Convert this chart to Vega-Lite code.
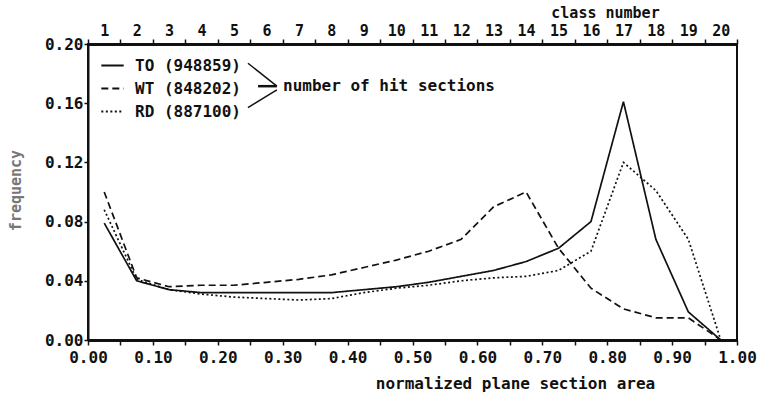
{
  "$schema": "https://vega.github.io/schema/vega-lite/v6.json",
  "width": 649,
  "height": 296,
  "autosize": "none",
  "padding": {"left": 88, "top": 44, "right": 21, "bottom": 57},
  "background": "white",
  "config": {
    "view": {"stroke": "#111", "strokeWidth": 2},
    "font": "DejaVu Sans Mono",
    "axis": {
      "grid": false,
      "domainColor": "#111",
      "tickColor": "#111",
      "labelColor": "#111",
      "titleColor": "#111",
      "labelFont": "DejaVu Sans Mono",
      "titleFont": "DejaVu Sans Mono",
      "labelFontWeight": "bold",
      "titleFontWeight": "bold",
      "labelFontSize": 16,
      "titleFontSize": 16,
      "tickWidth": 1.5
    },
    "legend": {
      "labelFont": "DejaVu Sans Mono",
      "labelFontWeight": "bold",
      "labelFontSize": 16,
      "labelColor": "#111"
    }
  },
  "data": {
    "values": [
      {"x": 0.025, "series": "TO (948859)", "f": 0.079},
      {"x": 0.075, "series": "TO (948859)", "f": 0.040},
      {"x": 0.125, "series": "TO (948859)", "f": 0.034},
      {"x": 0.175, "series": "TO (948859)", "f": 0.032},
      {"x": 0.225, "series": "TO (948859)", "f": 0.032},
      {"x": 0.275, "series": "TO (948859)", "f": 0.032},
      {"x": 0.325, "series": "TO (948859)", "f": 0.032},
      {"x": 0.375, "series": "TO (948859)", "f": 0.032},
      {"x": 0.425, "series": "TO (948859)", "f": 0.034},
      {"x": 0.475, "series": "TO (948859)", "f": 0.036},
      {"x": 0.525, "series": "TO (948859)", "f": 0.039},
      {"x": 0.575, "series": "TO (948859)", "f": 0.043},
      {"x": 0.625, "series": "TO (948859)", "f": 0.047},
      {"x": 0.675, "series": "TO (948859)", "f": 0.053},
      {"x": 0.725, "series": "TO (948859)", "f": 0.062},
      {"x": 0.775, "series": "TO (948859)", "f": 0.080},
      {"x": 0.825, "series": "TO (948859)", "f": 0.161},
      {"x": 0.875, "series": "TO (948859)", "f": 0.068},
      {"x": 0.925, "series": "TO (948859)", "f": 0.019},
      {"x": 0.975, "series": "TO (948859)", "f": 0.0},
      {"x": 0.025, "series": "WT (848202)", "f": 0.100},
      {"x": 0.075, "series": "WT (848202)", "f": 0.042},
      {"x": 0.125, "series": "WT (848202)", "f": 0.036},
      {"x": 0.175, "series": "WT (848202)", "f": 0.037},
      {"x": 0.225, "series": "WT (848202)", "f": 0.037},
      {"x": 0.275, "series": "WT (848202)", "f": 0.039},
      {"x": 0.325, "series": "WT (848202)", "f": 0.041},
      {"x": 0.375, "series": "WT (848202)", "f": 0.044},
      {"x": 0.425, "series": "WT (848202)", "f": 0.049},
      {"x": 0.475, "series": "WT (848202)", "f": 0.054},
      {"x": 0.525, "series": "WT (848202)", "f": 0.060},
      {"x": 0.575, "series": "WT (848202)", "f": 0.068},
      {"x": 0.625, "series": "WT (848202)", "f": 0.090},
      {"x": 0.675, "series": "WT (848202)", "f": 0.100},
      {"x": 0.725, "series": "WT (848202)", "f": 0.062},
      {"x": 0.775, "series": "WT (848202)", "f": 0.035},
      {"x": 0.825, "series": "WT (848202)", "f": 0.021},
      {"x": 0.875, "series": "WT (848202)", "f": 0.015},
      {"x": 0.925, "series": "WT (848202)", "f": 0.015},
      {"x": 0.975, "series": "WT (848202)", "f": 0.0},
      {"x": 0.025, "series": "RD (887100)", "f": 0.088},
      {"x": 0.075, "series": "RD (887100)", "f": 0.041},
      {"x": 0.125, "series": "RD (887100)", "f": 0.034},
      {"x": 0.175, "series": "RD (887100)", "f": 0.031},
      {"x": 0.225, "series": "RD (887100)", "f": 0.029},
      {"x": 0.275, "series": "RD (887100)", "f": 0.028},
      {"x": 0.325, "series": "RD (887100)", "f": 0.027},
      {"x": 0.375, "series": "RD (887100)", "f": 0.028},
      {"x": 0.425, "series": "RD (887100)", "f": 0.032},
      {"x": 0.475, "series": "RD (887100)", "f": 0.035},
      {"x": 0.525, "series": "RD (887100)", "f": 0.037},
      {"x": 0.575, "series": "RD (887100)", "f": 0.040},
      {"x": 0.625, "series": "RD (887100)", "f": 0.042},
      {"x": 0.675, "series": "RD (887100)", "f": 0.043},
      {"x": 0.725, "series": "RD (887100)", "f": 0.047},
      {"x": 0.775, "series": "RD (887100)", "f": 0.060},
      {"x": 0.825, "series": "RD (887100)", "f": 0.120},
      {"x": 0.875, "series": "RD (887100)", "f": 0.101},
      {"x": 0.925, "series": "RD (887100)", "f": 0.068},
      {"x": 0.975, "series": "RD (887100)", "f": 0.0}
    ]
  },
  "resolve": {"axis": {"x": "independent", "y": "independent"}},
  "layer": [
    {
      "mark": {"type": "line", "strokeWidth": 1.7},
      "encoding": {
        "x": {
          "field": "x",
          "type": "quantitative",
          "scale": {"domain": [0, 1], "nice": false, "zero": false},
          "axis": {
            "orient": "bottom",
            "values": [0, 0.05, 0.1, 0.15, 0.2, 0.25, 0.3, 0.35, 0.4, 0.45, 0.5, 0.55, 0.6, 0.65, 0.7, 0.75, 0.8, 0.85, 0.9, 0.95, 1.0],
            "labelExpr": "round(datum.value*20)%2==0 ? format(datum.value, '.2f') : ''",
            "labelOverlap": false,
            "labelFlush": false,
            "tickSize": 5,
            "labelPadding": 4,
            "domainWidth": 3,
            "title": "normalized plane section area",
            "titleX": 427,
            "titleY": 43,
            "titleAlign": "center",
            "titleBaseline": "middle"
          }
        },
        "y": {
          "field": "f",
          "type": "quantitative",
          "scale": {"domain": [0, 0.2], "nice": false},
          "axis": {
            "orient": "left",
            "values": [0, 0.04, 0.08, 0.12, 0.16, 0.2],
            "format": ".2f",
            "tickSize": 4,
            "labelPadding": 1,
            "domainWidth": 2,
            "title": "frequency",
            "titleColor": "#777",
            "titleFontSize": 15,
            "titleX": -73,
            "titleY": 146,
            "titleAlign": "center",
            "titleBaseline": "middle"
          }
        },
        "color": {
          "field": "series",
          "type": "nominal",
          "scale": {"domain": ["TO (948859)", "WT (848202)", "RD (887100)"], "range": ["#111", "#111", "#111"]},
          "legend": {
            "orient": "none",
            "legendX": 12,
            "legendY": 9,
            "title": null,
            "symbolType": "stroke",
            "symbolSize": 500,
            "symbolStrokeWidth": 2,
            "labelOffset": 10,
            "rowPadding": 2
          }
        },
        "strokeDash": {
          "field": "series",
          "type": "nominal",
          "scale": {"domain": ["TO (948859)", "WT (848202)", "RD (887100)"], "range": [[1, 0], [7, 4], [2, 2.5]]},
          "legend": {
            "orient": "none",
            "legendX": 12,
            "legendY": 9,
            "title": null,
            "symbolType": "stroke",
            "symbolSize": 500,
            "symbolStrokeWidth": 2,
            "labelOffset": 10,
            "rowPadding": 2
          }
        }
      }
    },
    {
      "mark": {"type": "point", "opacity": 0},
      "encoding": {
        "x": {
          "field": "x",
          "type": "quantitative",
          "axis": {
            "orient": "top",
            "values": [0, 0.025, 0.05, 0.075, 0.1, 0.125, 0.15, 0.175, 0.2, 0.225, 0.25, 0.275, 0.3, 0.325, 0.35, 0.375, 0.4, 0.425, 0.45, 0.475, 0.5, 0.525, 0.55, 0.575, 0.6, 0.625, 0.65, 0.675, 0.7, 0.725, 0.75, 0.775, 0.8, 0.825, 0.85, 0.875, 0.9, 0.925, 0.95, 0.975, 1.0],
            "labelExpr": "round(datum.value*40)%2==1 ? '' + ((round(datum.value*40)+1)/2) : ''",
            "labelOverlap": false,
            "labelFlush": false,
            "labelFontSize": 15,
            "tickSize": 5,
            "tickOpacity": {"condition": {"test": "round(datum.value*40)%2==0", "value": 1}, "value": 0},
            "labelPadding": 1,
            "domainWidth": 3,
            "title": "class number",
            "titleFontSize": 15,
            "titleX": 517,
            "titleY": -32,
            "titleAlign": "center",
            "titleBaseline": "middle"
          }
        },
        "y": {"field": "f", "type": "quantitative", "axis": null}
      }
    },
    {
      "data": {"values": [{}]},
      "mark": {"type": "rule", "strokeWidth": 1.5, "color": "#111"},
      "encoding": {
        "x": {"datum": 0.2465, "type": "quantitative", "axis": null},
        "y": {"datum": 0.187, "type": "quantitative", "axis": null},
        "x2": {"datum": 0.291},
        "y2": {"datum": 0.1715}
      }
    },
    {
      "data": {"values": [{}]},
      "mark": {"type": "rule", "strokeWidth": 2.5, "color": "#111"},
      "encoding": {
        "x": {"datum": 0.262, "type": "quantitative", "axis": null},
        "y": {"datum": 0.1715, "type": "quantitative", "axis": null},
        "x2": {"datum": 0.291},
        "y2": {"datum": 0.1715}
      }
    },
    {
      "data": {"values": [{}]},
      "mark": {"type": "rule", "strokeWidth": 1.5, "color": "#111"},
      "encoding": {
        "x": {"datum": 0.2465, "type": "quantitative", "axis": null},
        "y": {"datum": 0.157, "type": "quantitative", "axis": null},
        "x2": {"datum": 0.291},
        "y2": {"datum": 0.169}
      }
    },
    {
      "data": {"values": [{}]},
      "mark": {"type": "text", "align": "left", "baseline": "middle", "font": "DejaVu Sans Mono", "fontWeight": "bold", "fontSize": 16, "color": "#111"},
      "encoding": {
        "x": {"datum": 0.3005, "type": "quantitative", "axis": null},
        "y": {"datum": 0.1715, "type": "quantitative", "axis": null},
        "text": {"value": "number of hit sections"}
      }
    }
  ]
}
